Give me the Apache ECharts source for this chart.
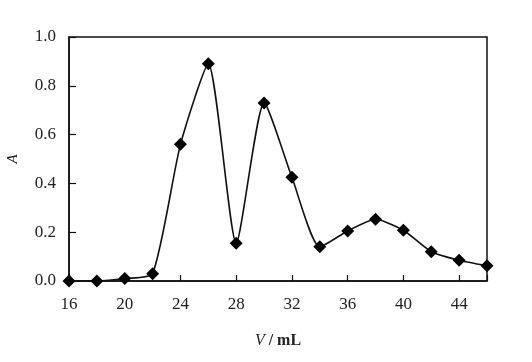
<!DOCTYPE html>
<html>
<head>
<meta charset="utf-8">
<script src="https://cdn.jsdelivr.net/npm/echarts@6/dist/echarts.min.js"></script>
<style>html,body{margin:0;padding:0;background:#fff;}#c{width:532px;height:362px;}</style>
</head>
<body>
<div id="c"></div>
<script>
var volumes = [16, 18, 20, 22, 24, 26, 28, 30, 32, 34, 36, 38, 40, 42, 44, 46];
var absorbance = [0.0, 0.0, 0.01, 0.03, 0.56, 0.89, 0.155, 0.73, 0.425, 0.14, 0.205, 0.253, 0.208, 0.12, 0.085, 0.062];
var xTicks = [16, 20, 24, 28, 32, 36, 40, 44];
var yTicks = [0.0, 0.2, 0.4, 0.6, 0.8, 1.0];

var data = volumes.map(function (v, i) { return [v, absorbance[i]]; });
var chart = echarts.init(document.getElementById('c'));
var font = 'Liberation Serif';
chart.setOption({
  animation: false,
  backgroundColor: '#fff',
  grid: { left: 69, right: 45, top: 37, bottom: 81, show: true, borderColor: '#111', borderWidth: 1.5, backgroundColor: 'transparent', outerBoundsMode: 'none', containLabel: false },
  xAxis: {
    type: 'value', min: 16, max: 46, interval: 4,
    axisLine: { show: true, lineStyle: { color: '#111', width: 1.5 } },
    axisTick: { show: true, inside: true, length: 6, lineStyle: { color: '#111', width: 1.2 } },
    splitLine: { show: false },
    axisLabel: {
      color: '#222', fontFamily: font, fontSize: 17, margin: 15,
      formatter: function (v) { return xTicks.indexOf(v) >= 0 ? String(v) : ''; }
    },
    name: '{i|V} / mL', nameLocation: 'middle', nameGap: 52,
    nameTextStyle: { color: '#222', fontFamily: font, fontSize: 16, fontWeight: 'bold',
      rich: { i: { fontStyle: 'italic', fontWeight: 'normal', fontFamily: font, fontSize: 16, color: '#222' } } }
  },
  yAxis: {
    type: 'value', min: 0, max: 1, interval: 0.2,
    axisLine: { show: true, lineStyle: { color: '#111', width: 1.5 } },
    axisTick: { show: true, inside: true, length: 7, lineStyle: { color: '#111', width: 1.2 } },
    splitLine: { show: false },
    axisLabel: {
      color: '#222', fontFamily: font, fontSize: 17, margin: 13,
      formatter: function (v) {
        for (var k = 0; k < yTicks.length; k++) { if (Math.abs(yTicks[k] - v) < 1e-9) return yTicks[k].toFixed(1); }
        return '';
      }
    },
    name: 'A', nameLocation: 'middle', nameGap: 48, nameRotate: 90,
    nameTextStyle: { color: '#222', fontFamily: font, fontSize: 15, fontStyle: 'italic' }
  },
  series: [{
    type: 'line', data: data, smooth: 0.2,
    symbol: 'diamond', symbolSize: 13,
    lineStyle: { color: '#111', width: 1.6 },
    itemStyle: { color: '#000' },
    clip: false
  }]
});
</script>
</body>
</html>
